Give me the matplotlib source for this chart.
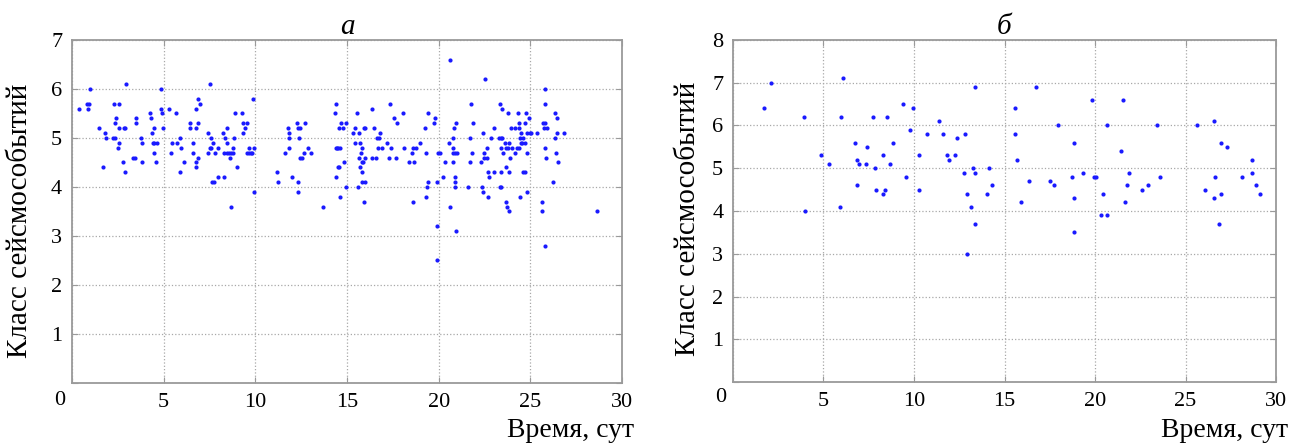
"""
Seismic event class vs time, two panels (а, б).
Produces: out.png
"""
import matplotlib
matplotlib.use('Agg')
import matplotlib.pyplot as plt

# ── Panel а ────────────────────────────────────────────────────────────────
a_time = [
    0.38, 0.84, 0.91, 0.87, 0.96, 1.49, 1.67, 1.80, 1.85, 2.25, 2.35, 2.27,
    2.36, 2.40, 2.50, 2.58, 2.58, 2.55, 2.80, 2.84, 2.90, 2.90, 2.95, 3.35,
    3.42, 3.50, 3.50, 3.75, 3.82, 3.84, 4.25, 4.33, 4.38, 4.44, 4.50, 4.50,
    4.62, 4.50, 4.60, 4.84, 4.84, 4.93, 4.95, 5.31, 5.42, 5.47, 5.69, 5.75,
    5.89, 5.93, 5.89, 6.10, 6.42, 6.42, 6.60, 6.60, 6.75, 6.76, 6.85, 6.90,
    6.75, 6.76, 6.90, 6.98, 7.42, 7.42, 7.55, 7.56, 7.53, 7.60, 7.67, 7.65,
    7.75, 7.82, 7.96, 7.96, 8.27, 8.25, 8.36, 8.44, 8.47, 8.30, 8.44, 8.55,
    8.62, 8.67, 8.65, 8.78, 8.78, 8.84, 8.90, 9.02, 9.29, 9.33, 9.31, 9.45,
    9.55, 9.55, 9.64, 9.75, 9.82, 9.67, 9.85, 9.93, 9.93,
    11.16, 11.24, 11.60, 11.78, 11.85, 11.84, 11.85, 12.02, 12.25, 12.35,
    12.35, 12.35, 12.44, 12.40, 12.44, 12.55, 12.65, 12.69, 12.87, 13.02,
    13.71, 14.38, 14.36, 14.40, 14.40, 14.47, 14.53, 14.60, 14.50, 14.58,
    14.55, 14.76, 14.67, 14.62, 14.84, 14.94, 14.94, 15.35, 15.45, 15.53,
    15.45, 15.60, 15.64, 15.64, 15.71, 15.71, 15.78, 15.82, 15.82, 15.89,
    15.82, 15.84, 16.00, 15.95, 15.93, 15.98, 16.00, 16.36, 16.36, 16.47,
    16.58, 16.65, 16.73, 16.67, 16.82, 16.90, 17.16, 17.27, 17.35, 17.42,
    17.56, 17.71, 17.66, 18.05, 18.11, 18.36, 18.55, 18.58, 18.62, 18.64,
    18.76, 18.98, 19.27, 19.33, 19.31, 19.36, 19.42, 19.44, 19.75, 19.82,
    19.93, 19.93, 19.96, 20.07, 19.93, 20.24, 20.36, 20.56, 20.60, 20.62,
    20.76, 20.80, 20.87, 20.98, 20.80, 20.80, 20.84, 20.87, 20.87, 20.87,
    20.93, 20.96, 21.60, 21.71, 21.73, 21.78, 21.82, 21.89, 22.33, 22.36,
    22.44, 22.44, 22.47, 22.51, 22.47, 22.62, 22.65, 22.69, 22.73, 22.69,
    22.87, 23.00, 23.02, 23.27, 23.38, 23.45, 23.35, 23.38, 23.45, 23.35,
    23.42, 23.42, 23.53, 23.64, 23.82, 23.67, 23.78, 23.67, 23.67, 23.71,
    23.78, 23.82, 23.82, 23.89, 23.96, 24.15, 24.36, 24.00, 24.18, 24.31,
    24.29, 24.40, 24.40, 24.44, 24.44, 24.47, 24.55, 24.51, 24.62, 24.62,
    24.73, 24.69, 24.73, 24.76, 24.80, 24.84, 24.98, 25.05, 24.84, 24.91,
    25.35, 25.64, 25.64, 25.67, 25.82, 25.75, 25.93, 25.78, 25.82, 25.82,
    25.85, 25.78, 26.22, 26.33, 26.36, 26.44, 26.40, 26.44, 26.51, 26.84,
    28.65,
]
a_class = [
    5.6, 5.7, 5.7, 5.6, 6.0, 5.2, 4.4, 5.1, 5.0, 5.0, 5.0, 5.7,
    5.3, 5.4, 4.8, 4.9, 5.7, 5.2, 4.5, 5.2, 5.2, 4.3, 6.1, 4.6,
    4.6, 5.4, 5.3, 5.0, 4.9, 4.5, 5.5, 5.4, 5.1, 4.9, 4.9, 5.2,
    4.9, 4.7, 4.5, 6.0, 5.6, 5.5, 5.2, 5.6, 4.7, 4.9, 5.5, 4.9,
    5.0, 4.8, 4.3, 4.5, 5.3, 5.2, 4.9, 4.7, 5.6, 5.2, 5.3, 4.6,
    4.4, 4.5, 5.8, 5.7, 5.1, 4.7, 6.1, 5.0, 4.8, 4.8, 4.9, 4.1,
    4.1, 4.7, 4.8, 4.2, 4.2, 5.1, 5.0, 4.9, 5.2, 4.7, 4.7, 4.7,
    4.6, 3.6, 4.7, 4.7, 4.8, 5.0, 5.5, 4.4, 5.5, 5.1, 5.3, 5.2,
    5.3, 4.7, 4.7, 4.7, 4.7, 4.8, 5.8, 4.8, 3.9,
    4.3, 4.1, 4.7, 5.2, 5.1, 5.0, 4.8, 4.2, 5.3, 4.1,
    3.9, 5.2, 5.2, 5.0, 4.6, 4.6, 4.7, 5.3, 4.8, 4.7,
    3.6, 5.7, 5.5, 4.2, 4.8, 4.8, 4.8, 4.8, 4.4, 4.4,
    5.2, 5.2, 5.3, 3.8, 4.5, 5.3, 4.0, 5.1, 5.2, 5.5,
    4.9, 4.0, 5.1, 4.6, 4.9, 4.4, 4.7, 4.8, 4.5, 4.5,
    4.3, 4.1, 4.1, 3.7, 5.2, 5.2, 4.6, 5.6, 4.6, 5.2,
    4.6, 5.0, 5.0, 4.8, 5.1, 4.8, 4.9, 4.6, 5.7, 4.8,
    5.4, 5.3, 4.6, 5.5, 4.8, 4.5, 4.7, 4.8, 3.7, 4.5,
    4.8, 4.9, 5.2, 4.7, 3.8, 4.0, 5.5, 4.1, 5.3, 5.4,
    3.2, 2.5, 4.7, 4.7, 4.1, 4.2, 4.5, 4.9, 6.6, 3.6,
    4.8, 4.7, 4.7, 4.7, 4.5, 5.0, 5.2, 4.2, 4.1, 4.0,
    3.1, 5.3, 4.0, 5.0, 4.5, 5.7, 4.7, 5.3, 4.5, 4.0,
    3.9, 5.1, 4.7, 6.2, 4.6, 4.6, 4.8, 4.3, 4.2, 3.8,
    5.0, 4.3, 5.2, 5.0, 5.0, 5.0, 5.7, 4.8, 5.6, 4.0,
    4.0, 4.3, 4.7, 4.9, 4.9, 4.8, 4.8, 4.4, 3.7, 3.6,
    5.5, 3.5, 4.3, 4.6, 5.2, 5.2, 5.2, 4.8, 4.7, 5.5,
    4.8, 4.8, 5.3, 5.0, 3.8, 4.9, 4.9, 5.1, 5.0, 4.3,
    4.3, 4.9, 5.3, 5.5, 4.7, 5.1, 5.1, 5.1, 3.9, 5.4,
    5.1, 3.7, 3.5, 5.3, 5.3, 5.2, 5.2, 4.8, 6.0, 5.7,
    4.6, 2.8, 4.1, 5.0, 5.5, 5.4, 4.7, 5.1, 4.5, 5.1,
    3.5,
]

# ── Panel б ────────────────────────────────────────────────────────────────
b_time = [
    1.71, 2.08, 3.92, 3.96, 4.84, 5.29, 5.91, 5.99, 6.06, 6.76, 6.87, 6.87,
    6.98, 7.35, 7.42, 7.72, 7.83, 7.90, 8.27, 8.27, 8.42, 8.49, 8.69, 8.86,
    9.41, 9.56, 9.78, 9.93, 10.26, 10.29,
    10.74, 11.38, 11.58, 11.84, 11.95, 12.27, 12.38, 12.76, 12.82, 12.93,
    12.91, 13.13, 13.27, 13.37, 13.39, 13.39, 14.05, 14.14, 14.33, 15.60,
    15.60, 15.67, 15.89, 16.35, 16.74, 17.51, 17.75, 17.96, 18.75, 18.82,
    18.82, 18.84, 19.32, 19.83, 19.94, 20.05, 20.35, 20.65, 20.46, 20.65,
    21.42, 21.55, 21.64, 21.75, 21.86, 22.62, 22.95, 23.41, 23.57, 25.62,
    26.10, 26.57, 26.60, 26.65, 26.83, 26.98, 26.98, 27.28, 28.13, 28.68,
    28.68, 28.90, 29.10,
]
b_class = [
    6.4, 7.0, 6.2, 4.0, 5.3, 5.1, 4.1, 6.2, 7.1, 5.6, 5.2, 4.6,
    5.1, 5.1, 5.5, 6.2, 5.0, 4.5, 5.3, 4.4, 4.5, 6.2, 5.1, 5.6,
    6.5, 4.8, 5.9, 6.4, 5.3, 4.5,
    5.8, 6.1, 5.8, 5.3, 5.2, 5.3, 5.7, 4.9, 5.8, 4.4,
    3.0, 4.1, 5.0, 6.9, 4.9, 3.7, 4.4, 5.0, 4.6, 6.4,
    5.8, 5.2, 4.2, 4.7, 6.9, 4.7, 4.6, 6.0, 4.8, 5.6,
    4.3, 3.5, 4.9, 6.6, 4.8, 4.8, 3.9, 3.9, 4.4, 6.0,
    5.4, 6.6, 4.2, 4.6, 4.9, 4.5, 4.6, 6.0, 4.8, 6.0,
    4.5, 6.1, 4.3, 4.8, 3.7, 5.6, 4.4, 5.5, 4.8, 5.2,
    4.9, 4.6, 4.4,
]

plt.rcParams['font.family'] = ['Liberation Serif', 'DejaVu Serif']

GRID  = '#a8a8a8'
SPINE = '#9a9a9a'
DOT   = '#1a1aff'


def style_panel(ax, ymax, title, ylab_xy, zero_xy, xlab_y):
    ax.set_xlim(0, 30)
    ax.set_ylim(0, ymax)
    ax.set_xticks(range(0, 31, 5))
    ax.set_xticklabels([''] + [str(v) for v in range(5, 31, 5)])
    ax.set_yticks(range(0, ymax + 1))
    ax.set_yticklabels([''] + [str(v) for v in range(1, ymax + 1)])
    ax.tick_params(direction='in', length=4, color=SPINE, labelsize=16,
                   top=True, right=True, pad=7)
    ax.grid(True, linestyle=':', color=GRID, linewidth=0.9)
    for spine in ax.spines.values():
        spine.set_edgecolor(SPINE)
        spine.set_linewidth(1.3)
    # shared corner zero, MATLAB style
    ax.text(zero_xy[0], zero_xy[1], '0', transform=ax.transAxes,
            ha='center', va='center', fontsize=16)
    ax.set_title(title, fontsize=21, style='italic', pad=4)
    ax.text(1.022, xlab_y, 'Время, сут', transform=ax.transAxes,
            ha='right', va='baseline', fontsize=20)
    ax.set_ylabel('Класс сейсмособытий', fontsize=21, va='center')
    ax.yaxis.set_label_coords(*ylab_xy)


fig = plt.figure(figsize=(13.01, 4.44), dpi=100)
ax_a = fig.add_axes([0.0553, 0.1374, 0.4228, 0.7726])
ax_b = fig.add_axes([0.5634, 0.1396, 0.4174, 0.7704])

ax_a.plot(a_time, a_class, 'o', ms=3.0, color=DOT, mec='none')
ax_b.plot(b_time, b_class, 'o', ms=3.0, color=DOT, mec='none')

style_panel(ax_a, 7, 'а', (-0.095, 0.472), (-0.022, -0.05), -0.157)
style_panel(ax_b, 8, 'б', (-0.083, 0.477), (-0.022, -0.044), -0.161)

fig.savefig('out.png', dpi=100, facecolor='white')
